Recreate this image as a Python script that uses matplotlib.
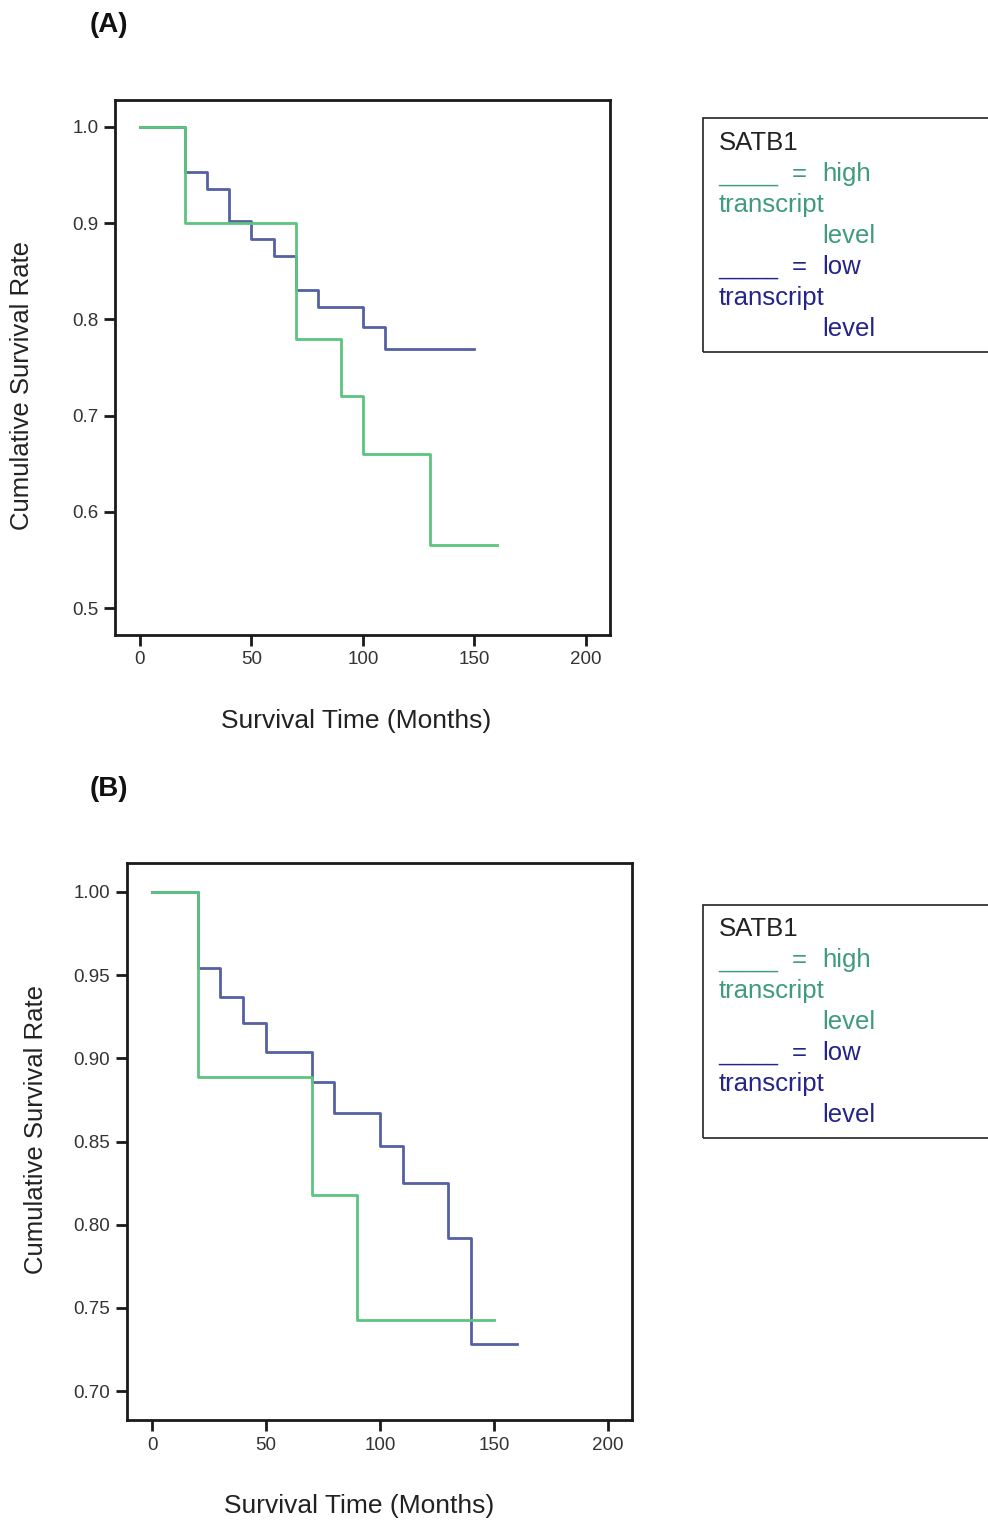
import matplotlib.pyplot as plt
from matplotlib.patches import Rectangle

plt.rcParams['font.family'] = ['Liberation Sans', 'DejaVu Sans']

# Data
# Panel A
a_high_t = [0, 20, 70, 90, 100, 130, 160]
a_high_s = [1.0, 0.9, 0.78, 0.72, 0.66, 0.566, 0.566]
a_low_t = [0, 20, 30, 40, 50, 60, 70, 80, 100, 110, 150]
a_low_s = [1.0, 0.953, 0.935, 0.902, 0.884, 0.866, 0.831, 0.813, 0.792, 0.769, 0.769]
a_yticks = [0.5, 0.6, 0.7, 0.8, 0.9, 1.0]

# Panel B
b_high_t = [0, 20, 70, 90, 150]
b_high_s = [1.0, 0.889, 0.818, 0.743, 0.743]
b_low_t = [0, 20, 30, 40, 50, 70, 80, 100, 110, 130, 140, 160]
b_low_s = [1.0, 0.954, 0.937, 0.921, 0.904, 0.886, 0.867, 0.847, 0.825, 0.792, 0.728, 0.728]
b_yticks = [0.70, 0.75, 0.80, 0.85, 0.90, 0.95, 1.00]

xticks = [0, 50, 100, 150, 200]

green = '#5cc47e'
blue = '#5560a2'
leg_green = '#3f9a7e'
leg_blue = '#24248a'

W, H = 988, 1521
fig = plt.figure(figsize=(W / 100, H / 100), dpi=100)


def px_axes(left, top, right, bottom):
    return fig.add_axes([left / W, 1 - bottom / H, (right - left) / W, (bottom - top) / H])


def ftext(x, y, s, **kw):
    return fig.text(x / W, 1 - y / H, s, **kw)


def style_axes(ax, yticks, fmt, xlim, ylim):
    ax.set_xlim(*xlim)
    ax.set_ylim(*ylim)
    ax.set_xticks(xticks)
    ax.set_yticks(yticks)
    ax.set_yticklabels([fmt % v for v in yticks])
    for s in ax.spines.values():
        s.set_linewidth(2)
        s.set_color('#1a1a1a')
    ax.tick_params(direction='out', length=8, width=2, color='#1a1a1a',
                   labelsize=13.5, labelcolor='#333333', pad=4)


def legend_box(top, bottom, first):
    x0 = 703
    fig.patches.append(Rectangle((x0 / W, 1 - bottom / H), (W + 20 - x0) / W,
                                 (bottom - top) / H, transform=fig.transFigure,
                                 fill=False, edgecolor='#222222', linewidth=1.2,
                                 clip_on=False))
    fs = 18.5
    step = 31
    ftext(719, first, 'SATB1', fontsize=fs, color='#222222', va='center')
    for k, (lab, c) in enumerate([('high', leg_green), ('low', leg_blue)]):
        y = first + step * (1 + 3 * k)
        ftext(718, y + 2, '_____', fontsize=15.5, color=c, va='center')
        ftext(792, y, '=', fontsize=fs, color=c, va='center')
        ftext(822, y, lab, fontsize=fs, color=c, va='center')
        ftext(719, y + step, 'transcript', fontsize=fs, color=c, va='center')
        ftext(822, y + 2 * step, 'level', fontsize=fs, color=c, va='center')


# Panel A
ax1 = px_axes(115, 100, 610, 634.5)
ax1.step(a_low_t, a_low_s, where='post', color=blue, lw=2)
ax1.step(a_high_t, a_high_s, where='post', color=green, lw=2)
style_axes(ax1, a_yticks, '%.1f', (-11.2, 210.8), (0.4725, 1.028))
ftext(22, 385, 'Cumulative Survival Rate', rotation=90, fontsize=18.5,
      color='#222222', ha='center', va='center')
ftext(356, 721, 'Survival Time (Months)', fontsize=19, color='#222222',
      ha='center', va='center')
ftext(90, 25, '(A)', fontsize=20, fontweight='bold', color='#111111',
      ha='left', va='center')
legend_box(118, 352, 143)

# Panel B
ax2 = px_axes(127, 863, 632, 1420)
ax2.step(b_low_t, b_low_s, where='post', color=blue, lw=2)
ax2.step(b_high_t, b_high_s, where='post', color=green, lw=2)
style_axes(ax2, b_yticks, '%.2f', (-11, 210.5), (0.6826, 1.0174))
ftext(36, 1130, 'Cumulative Survival Rate', rotation=90, fontsize=18.5,
      color='#222222', ha='center', va='center')
ftext(359, 1506, 'Survival Time (Months)', fontsize=19, color='#222222',
      ha='center', va='center')
ftext(90, 789, '(B)', fontsize=20, fontweight='bold', color='#111111',
      ha='left', va='center')
legend_box(905, 1138, 929)

fig.savefig('out.png', dpi=100)
